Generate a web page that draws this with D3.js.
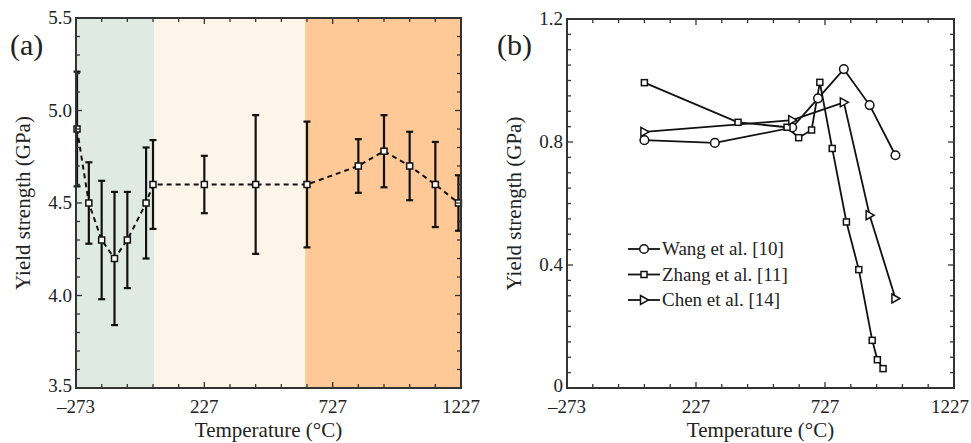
<!DOCTYPE html>
<html>
<head>
<meta charset="utf-8">
<script src="https://cdn.jsdelivr.net/npm/d3@7"></script>
<style>
  body { margin: 0; background: #fff; }
</style>
</head>
<body>
<svg width="971" height="443"></svg>
<script>
// panel (a) data
const tempA = [-269, -223, -173, -123, -73, 0, 27, 227, 427, 627, 827, 927, 1027, 1127, 1217]
const yieldA = [4.9, 4.5, 4.3, 4.2, 4.3, 4.5, 4.6, 4.6, 4.6, 4.6, 4.7, 4.78, 4.7, 4.6, 4.5]
const errA = [0.31, 0.22, 0.32, 0.36, 0.26, 0.3, 0.24, 0.155, 0.375, 0.34, 0.145, 0.195, 0.185, 0.23, 0.15]
const bands = [
  { from: -273, to: 33, color: '#dfebe2' },
  { from: 33, to: 620, color: '#fef5ea' },
  { from: 620, to: 1227, color: '#fec996' }
]

// panel (b) data
const wangT = [27, 300, 600, 700, 800, 900, 1000]
const wangY = [0.806, 0.797, 0.847, 0.942, 1.037, 0.92, 0.757]
const zhangT = [27, 390, 580, 625, 675, 707, 755, 810, 858, 910, 930, 952]
const zhangY = [0.993, 0.864, 0.848, 0.814, 0.839, 0.994, 0.779, 0.54, 0.385, 0.155, 0.092, 0.063]
const chenT = [27, 600, 800, 900, 1000]
const chenY = [0.833, 0.871, 0.929, 0.562, 0.291]

const xTickLabels = [-273, 227, 727, 1227]
const yTicksA = [3.5, 4.0, 4.5, 5.0, 5.5]
const yTicksB = [0, 0.4, 0.8, 1.2]

const FONT = '"Liberation Serif", "Times New Roman", "DejaVu Serif", serif'

const svg = d3.select('svg')
  .attr('font-family', FONT)

function drawFrame(g, x, y, yMajor, yStep, yFmt) {
  const [x0, x1] = x.range()
  const [y1, y0] = y.range()
  const xMinor = d3.range(-273, 1228, 100)
  const yMinor = d3.range(y.domain()[0], y.domain()[1] + yStep / 2, yStep)

  const ticks = g.append('g').attr('stroke', '#333').attr('stroke-width', 1.3)
  xMinor.forEach(v => {
    const len = xTickLabels.includes(v) ? 6 : 4
    ticks.append('line').attr('x1', x(v)).attr('x2', x(v)).attr('y1', y1).attr('y2', y1 - len)
    ticks.append('line').attr('x1', x(v)).attr('x2', x(v)).attr('y1', y0).attr('y2', y0 + len)
  })
  yMinor.forEach(v => {
    const major = yMajor.some(m => Math.abs(m - v) < 1e-6)
    const len = major ? 6 : 4
    ticks.append('line').attr('y1', y(v)).attr('y2', y(v)).attr('x1', x0).attr('x2', x0 + len)
    ticks.append('line').attr('y1', y(v)).attr('y2', y(v)).attr('x1', x1).attr('x2', x1 - len)
  })

  g.append('rect')
    .attr('x', x0).attr('y', y0)
    .attr('width', x1 - x0).attr('height', y1 - y0)
    .attr('fill', 'none').attr('stroke', '#333').attr('stroke-width', 2)

  // keep the last label inside the window
  g.selectAll('.xl').data(xTickLabels).enter().append('text')
    .attr('x', d => Math.min(x(d), 950)).attr('y', y1 + 25)
    .attr('text-anchor', 'middle').attr('font-size', 19).attr('fill', '#222')
    .text(d => d < 0 ? '\u2013' + Math.abs(d) : d)

  g.selectAll('.yl').data(yMajor).enter().append('text')
    .attr('x', x0 - 4).attr('y', (d, i) => y(d) + (i === 0 ? 4 : 6))
    .attr('text-anchor', 'end').attr('font-size', 19).attr('fill', '#222')
    .text(yFmt)

  g.append('text')
    .attr('x', (x0 + x1) / 2).attr('y', y1 + 49)
    .attr('text-anchor', 'middle').attr('font-size', 21).attr('fill', '#222')
    .text('Temperature (\u00b0C)')

  g.append('text')
    .attr('transform', `translate(${x0 - 46},${(y0 + y1) / 2}) rotate(-90)`)
    .attr('text-anchor', 'middle').attr('font-size', 21).attr('fill', '#222')
    .text('Yield strength (GPa)')
}

// ---------- panel (a)
const xa = d3.scaleLinear().domain([-273, 1227]).range([76, 461])
const ya = d3.scaleLinear().domain([3.5, 5.5]).range([388, 18])
const ga = svg.append('g')

ga.selectAll('.band').data(bands).enter().append('rect')
  .attr('x', d => xa(d.from)).attr('width', d => xa(d.to) - xa(d.from))
  .attr('y', ya(5.5)).attr('height', ya(3.5) - ya(5.5))
  .attr('fill', d => d.color)

const ptsA = tempA.map((t, i) => ({ t: t, v: yieldA[i], e: errA[i] }))

ga.append('path')
  .datum(ptsA)
  .attr('d', d3.line().x(d => xa(d.t)).y(d => ya(d.v)))
  .attr('fill', 'none').attr('stroke', '#111')
  .attr('stroke-width', 2).attr('stroke-dasharray', '5,4')

const eb = ga.append('g').attr('stroke', '#111').attr('stroke-width', 2.2)
ptsA.forEach(d => {
  eb.append('line').attr('x1', xa(d.t)).attr('x2', xa(d.t)).attr('y1', ya(d.v - d.e)).attr('y2', ya(d.v + d.e))
  eb.append('line').attr('x1', xa(d.t) - 3.5).attr('x2', xa(d.t) + 3.5).attr('y1', ya(d.v - d.e)).attr('y2', ya(d.v - d.e))
  eb.append('line').attr('x1', xa(d.t) - 3.5).attr('x2', xa(d.t) + 3.5).attr('y1', ya(d.v + d.e)).attr('y2', ya(d.v + d.e))
})

ga.selectAll('.sq').data(ptsA).enter().append('rect')
  .attr('x', d => xa(d.t) - 3).attr('y', d => ya(d.v) - 3)
  .attr('width', 6).attr('height', 6)
  .attr('fill', '#fff').attr('stroke', '#111').attr('stroke-width', 1.5)

drawFrame(ga, xa, ya, yTicksA, 0.1, d => d.toFixed(1))

ga.append('text').attr('x', 10).attr('y', 55).attr('font-size', 30).attr('fill', '#222').text('(a)')

// ---------- panel (b)
const xb = d3.scaleLinear().domain([-273, 1227]).range([567, 954])
const yb = d3.scaleLinear().domain([0, 1.2]).range([388, 19])
const gb = svg.append('g')

const series = [
  { name: 'Wang et al. [10]', t: wangT, v: wangY, marker: 'circle' },
  { name: 'Zhang et al. [11]', t: zhangT, v: zhangY, marker: 'square' },
  { name: 'Chen et al. [14]', t: chenT, v: chenY, marker: 'triangle' }
]

function drawMarker(g, type, cx, cy) {
  if (type === 'circle') {
    g.append('circle').attr('cx', cx).attr('cy', cy).attr('r', 4.3)
      .attr('fill', '#fff').attr('stroke', '#111').attr('stroke-width', 1.5)
  } else if (type === 'square') {
    g.append('rect').attr('x', cx - 3).attr('y', cy - 3).attr('width', 6).attr('height', 6)
      .attr('fill', '#fff').attr('stroke', '#111').attr('stroke-width', 1.5)
  } else {
    g.append('path').attr('d', `M${cx - 3.5},${cy - 4.5}L${cx + 4.5},${cy}L${cx - 3.5},${cy + 4.5}Z`)
      .attr('fill', '#fff').attr('stroke', '#111').attr('stroke-width', 1.5)
  }
}

series.forEach(s => {
  const pts = s.t.map((t, i) => [t, s.v[i]])
  gb.append('path').datum(pts)
    .attr('d', d3.line().x(d => xb(d[0])).y(d => yb(d[1])))
    .attr('fill', 'none').attr('stroke', '#111').attr('stroke-width', 1.8)
})
series.forEach(s => {
  s.t.forEach((t, i) => drawMarker(gb, s.marker, xb(t), yb(s.v[i])))
})

drawFrame(gb, xb, yb, yTicksB, 0.05, d => d === 0 ? '0' : d.toFixed(1))

gb.append('text').attr('x', 497).attr('y', 55).attr('font-size', 30).attr('fill', '#222').text('(b)')

// legend
const leg = gb.append('g').attr('transform', 'translate(628,249)')
series.forEach((s, i) => {
  const row = leg.append('g').attr('transform', `translate(0,${i * 25.5})`)
  row.append('line').attr('x1', 0).attr('x2', 32).attr('y1', 0).attr('y2', 0)
    .attr('stroke', '#111').attr('stroke-width', 1.8)
  drawMarker(row, s.marker, 16, 0)
  row.append('text').attr('x', 34).attr('y', 6).attr('font-size', 19).attr('fill', '#222').text(s.name)
})
</script>
</body>
</html>
